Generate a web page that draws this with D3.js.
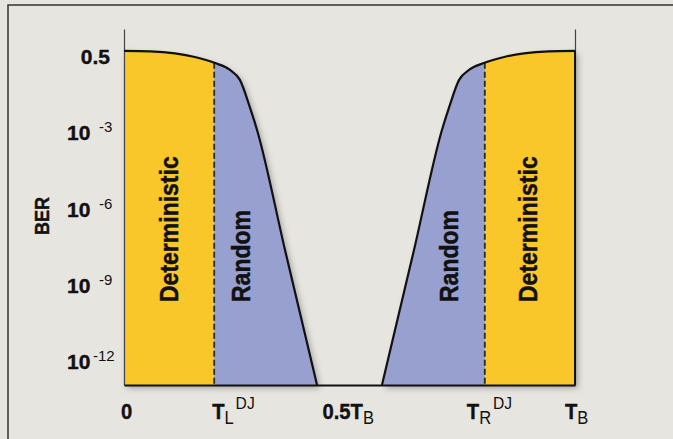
<!DOCTYPE html>
<html>
<head>
<meta charset="utf-8">
<script src="https://cdn.jsdelivr.net/npm/d3@7"></script>
<style>
  body { margin: 0; background: #e7e5e0; }
  svg { display: block; }
  text { font-family: "Liberation Sans", Arial, sans-serif; fill: #111; }
</style>
</head>
<body>
<div id="main"></div>
<script>
// bathtub curve, x in fractions of the bit period T_B, y in "decades" (0 = 0.5, 3 = 1e-3 ...)
const leftX = [0, 0.058, 0.113, 0.157, 0.202, 0.235, 0.257, 0.279, 0.295, 0.357, 0.428];
const leftY = [-0.24, -0.22, -0.14, 0, 0.24, 0.51, 0.9, 1.97, 2.87, 7.59, 12.9];
const rightX = [0.572, 0.643, 0.705, 0.721, 0.743, 0.765, 0.798, 0.843, 0.887, 0.942, 1];
const rightY = [12.9, 7.59, 2.87, 1.97, 0.9, 0.51, 0.24, 0, -0.14, -0.22, -0.24];

const tL = 0.2, tR = 0.8;

const yTickVals = [0, 3, 6, 9, 12];
const yTickBase = ["0.5", "10", "10", "10", "10"];
const yTickExp = ["", "-3", "-6", "-9", "-12"];

const xTickVals = [0, 0.2, 0.5, 0.8, 1];
const xTickMain = ["0", "T", "0.5T", "T", "T"];
const xTickSub = ["", "L", "B", "R", "B"];
const xTickSup = ["", "DJ", "", "DJ", ""];

const regionNames = ["Deterministic", "Random", "Random", "Deterministic"];
const regionCenters = [0.1, 0.26, 0.72, 0.895];

const width = 673, height = 439;
const padLeft = 124, padRight = 575, padTop = 29, padBottom = 385;

const svg = d3.select("#main").append("svg")
    .attr("width", width)
    .attr("height", height);

const defs = svg.append("defs");
const shadow = defs.append("filter").attr("id", "shadow")
    .attr("x", "-10%").attr("y", "-10%").attr("width", "130%").attr("height", "130%");
shadow.append("feDropShadow")
    .attr("dx", 3).attr("dy", 3).attr("stdDeviation", 3)
    .attr("flood-color", "#000").attr("flood-opacity", 0.3);

// frame (only top and left edges are inside the picture)
svg.append("path")
    .attr("d", "M8," + height + "V5H" + width)
    .attr("fill", "none")
    .attr("stroke", "#333")
    .attr("stroke-width", 1.5);

const x = d3.scaleLinear().domain([0, 1]).range([padLeft, padRight]);
const y = d3.scaleLinear().domain([-1.1, 12.9]).range([padTop, padBottom]);

const leftPts = leftX.map((v, i) => [v, leftY[i]]);
const rightPts = rightX.map((v, i) => [v, rightY[i]]);

const area = d3.area()
    .x(d => x(d[0]))
    .y0(y(12.9))
    .y1(d => y(d[1]))
    .curve(d3.curveMonotoneX);

const line = d3.line()
    .x(d => x(d[0]))
    .y(d => y(d[1]))
    .curve(d3.curveMonotoneX);

defs.append("clipPath").attr("id", "clipL").append("path").attr("d", area(leftPts));
defs.append("clipPath").attr("id", "clipR").append("path").attr("d", area(rightPts));

const fills = svg.append("g").attr("filter", "url(#shadow)");

fills.append("path").attr("d", area(leftPts)).attr("fill", "#97a0cf");
fills.append("path").attr("d", area(rightPts)).attr("fill", "#97a0cf");

fills.append("rect")
    .attr("clip-path", "url(#clipL)")
    .attr("x", x(0)).attr("y", padTop)
    .attr("width", x(tL) - x(0)).attr("height", padBottom - padTop)
    .attr("fill", "#f9c72b");

fills.append("rect")
    .attr("clip-path", "url(#clipR)")
    .attr("x", x(tR)).attr("y", padTop)
    .attr("width", x(1) - x(tR)).attr("height", padBottom - padTop)
    .attr("fill", "#f9c72b");

// dashed boundaries
function curveAt(pts, v) {
    const path = svg.append("path").attr("d", line(pts)).attr("fill", "none");
    const node = path.node();
    const len = node.getTotalLength();
    let lo = 0, hi = len;
    const px = x(v);
    for (let k = 0; k < 40; k++) {
        const mid = (lo + hi) / 2;
        const p = node.getPointAtLength(mid);
        if (p.x < px) lo = mid; else hi = mid;
    }
    const yy = node.getPointAtLength(lo).y;
    path.remove();
    return yy;
}

[[leftPts, tL], [rightPts, tR]].forEach(([pts, v]) => {
    svg.append("line")
        .attr("x1", x(v)).attr("x2", x(v))
        .attr("y1", curveAt(pts, v)).attr("y2", padBottom)
        .attr("stroke", "#2a2a2a")
        .attr("stroke-width", 1.8)
        .attr("stroke-dasharray", "6,3");
});

// axes
svg.append("g")
    .attr("transform", "translate(" + padLeft + ",0)")
    .call(d3.axisLeft(y).tickValues([]).tickSizeOuter(0))
    .call(g => g.select(".domain").attr("stroke", "#444").attr("stroke-width", 1.2));

svg.append("g")
    .attr("transform", "translate(" + padRight + ",0)")
    .call(d3.axisRight(y).tickValues([]).tickSizeOuter(0))
    .call(g => g.select(".domain").attr("stroke", "#444").attr("stroke-width", 1.2));

svg.append("line")
    .attr("x1", padRight).attr("x2", padRight)
    .attr("y1", y(rightY[rightY.length - 1])).attr("y2", padBottom)
    .attr("stroke", "#111").attr("stroke-width", 2);

svg.append("g")
    .attr("transform", "translate(0," + padBottom + ")")
    .call(d3.axisBottom(x).tickValues([]).tickSizeOuter(0))
    .call(g => g.select(".domain").attr("stroke", "#111").attr("stroke-width", 2.2));

// curves
[leftPts, rightPts].forEach(pts => {
    svg.append("path")
        .attr("d", line(pts))
        .attr("fill", "none")
        .attr("stroke", "#111")
        .attr("stroke-width", 2.2);
});

// y tick labels
yTickVals.forEach((v, i) => {
    const t = svg.append("text")
        .attr("y", y(v) + 7)
        .style("font-size", "21px")
        .style("font-weight", "bold")
        .attr("stroke", "#111").attr("stroke-width", 0.4);
    if (yTickExp[i] === "") {
        t.attr("x", 110).attr("text-anchor", "end").text(yTickBase[i]);
    } else {
        t.attr("x", 67).text(yTickBase[i]);
        t.append("tspan")
            .attr("x", yTickExp[i].length > 2 ? 93 : 99)
            .attr("dy", -8)
            .attr("stroke-width", 0)
            .style("font-size", "15px")
            .style("font-weight", "normal")
            .text(yTickExp[i]);
    }
});

svg.append("text")
    .attr("transform", "translate(49,216) rotate(-90) scale(0.9,1)")
    .attr("text-anchor", "middle")
    .style("font-size", "20px")
    .style("font-weight", "bold")
    .attr("stroke", "#111").attr("stroke-width", 0.4)
    .text("BER");

// x tick labels
const xShift = [-3, -2, -27, -18, -10];
xTickVals.forEach((v, i) => {
    const t = svg.append("text")
        .attr("transform", "translate(" + (x(v) + xShift[i]) + ",419) scale(0.92,1)")
        .style("font-size", "22px")
        .style("font-weight", "bold");
    t.append("tspan")
        .attr("stroke", "#111").attr("stroke-width", 0.4)
        .text(xTickMain[i]);
    if (xTickSub[i]) {
        t.append("tspan")
            .attr("dy", 5)
            .style("font-size", "18px")
            .style("font-weight", "normal")
            .text(xTickSub[i]);
    }
    if (xTickSup[i]) {
        t.append("tspan")
            .attr("dx", 2)
            .attr("dy", -15)
            .style("font-size", "17px")
            .style("font-weight", "normal")
            .text(xTickSup[i]);
    }
});

// region labels
regionNames.forEach((name, i) => {
    svg.append("text")
        .attr("transform", "translate(" + (x(regionCenters[i]) + 9) + ",302) rotate(-90) scale(0.92,1)")
        .style("font-size", "25px")
        .style("font-weight", "bold")
        .attr("stroke", "#111").attr("stroke-width", 0.5)
        .text(name);
});
</script>
</body>
</html>
